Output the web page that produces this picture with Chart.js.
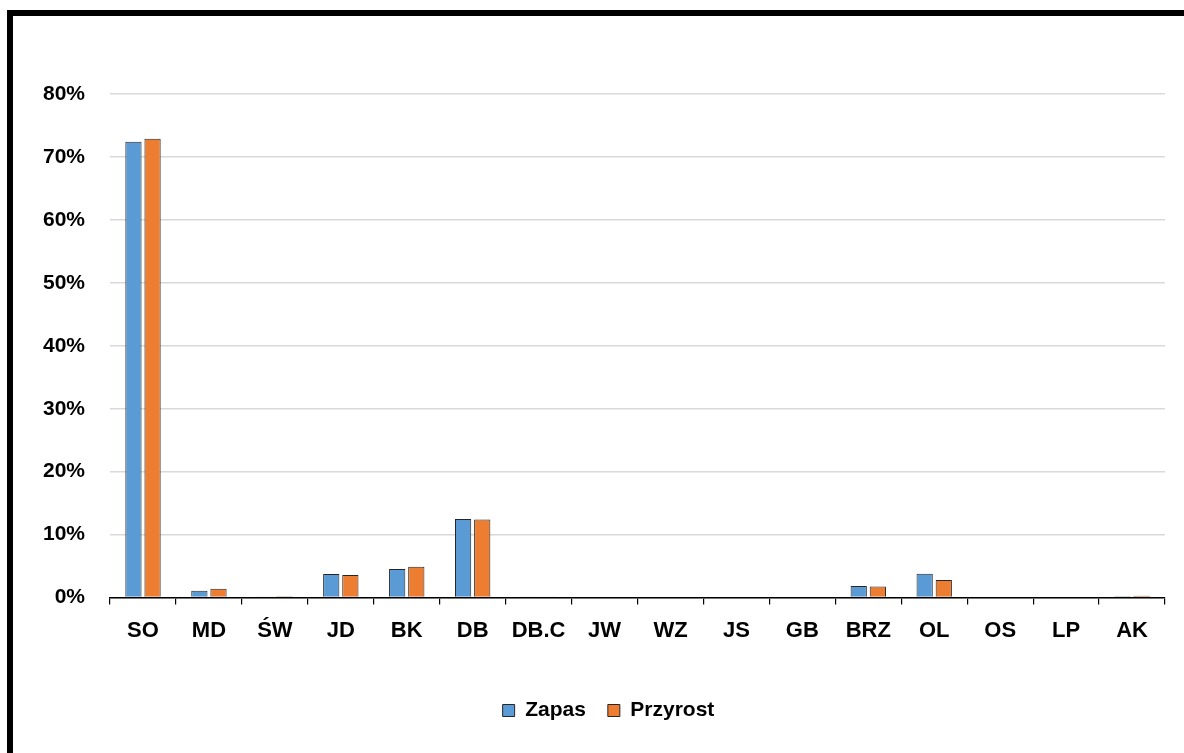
<!DOCTYPE html>
<html>
<head>
<meta charset="utf-8">
<script src="https://cdn.jsdelivr.net/npm/chart.js@4"></script>
<style>
  body { margin: 0; background: #fff; }
  #wrap { position: relative; width: 1184px; height: 753px; overflow: hidden; }
  #frame { position: absolute; left: 7px; top: 10px; width: 1300px; height: 900px;
           border-top: 6px solid #000; border-left: 6px solid #000; pointer-events: none; }
</style>
</head>
<body>
<div id="wrap">
  <canvas id="myChart" width="1184" height="753"></canvas>
  <div id="frame"></div>
</div>
<script>
const categories = ['SO', 'MD', 'ŚW', 'JD', 'BK', 'DB', 'DB.C', 'JW', 'WZ', 'JS', 'GB', 'BRZ', 'OL', 'OS', 'LP', 'AK'];
const zapas = [72.4, 1.1, 0.1, 3.75, 4.55, 12.5, 0.05, 0, 0, 0, 0.15, 1.85, 3.8, 0, 0, 0.2];
const przyrost = [72.9, 1.4, 0.2, 3.6, 4.9, 12.4, 0.1, 0, 0, 0, 0.15, 1.75, 2.8, 0, 0, 0.3];
const yTicks = [0, 10, 20, 30, 40, 50, 60, 70, 80];

Chart.defaults.font.family = "'Liberation Sans', Arial, sans-serif";
Chart.defaults.font.weight = 'bold';
Chart.defaults.font.size = 21;
Chart.defaults.color = '#000';

// legend sits a little right of centre in the original
const legendShift = {
    id: 'legendShift',
    afterUpdate(chart) {
        if (chart.legend) {
            chart.legend.left += 17;
            chart.legend.right += 17;
        }
    }
};

const ctx = document.getElementById('myChart');
new Chart(ctx, {
    type: 'bar',
    data: {
        labels: categories,
        datasets: [{
            label: 'Zapas',
            data: zapas,
            backgroundColor: '#5B9BD5',
            borderColor: '#262626',
            borderWidth: 1,
            barPercentage: 0.85,
            categoryPercentage: 0.58
        }, {
            label: 'Przyrost',
            data: przyrost,
            backgroundColor: '#ED7D31',
            borderColor: '#262626',
            borderWidth: 1,
            barPercentage: 0.85,
            categoryPercentage: 0.58
        }]
    },
    plugins: [legendShift],
    options: {
        responsive: false,
        animation: false,
        layout: { padding: { left: 18, right: 19, top: 94, bottom: 22 } },
        plugins: {
            legend: {
                position: 'bottom',
                labels: { boxWidth: 12, boxHeight: 12, padding: 22, color: '#000' }
            },
            tooltip: { enabled: false }
        },
        scales: {
            x: {
                grid: { drawOnChartArea: false, drawTicks: true, tickLength: 7, color: '#000', lineWidth: 1.2 },
                border: { display: true, color: '#000', width: 1.5 },
                ticks: { padding: 13, font: { size: 22 } },
                afterFit: (axis) => { axis.height += 21; }
            },
            y: {
                min: 0,
                max: 80,
                afterBuildTicks: (axis) => { axis.ticks = yTicks.map(v => ({ value: v })); },
                grid: { color: '#d9d9d9', lineWidth: 1.5, drawTicks: false },
                border: { display: false },
                ticks: { padding: 25, callback: (v) => v + '%' }
            }
        }
    }
});
</script>
</body>
</html>
